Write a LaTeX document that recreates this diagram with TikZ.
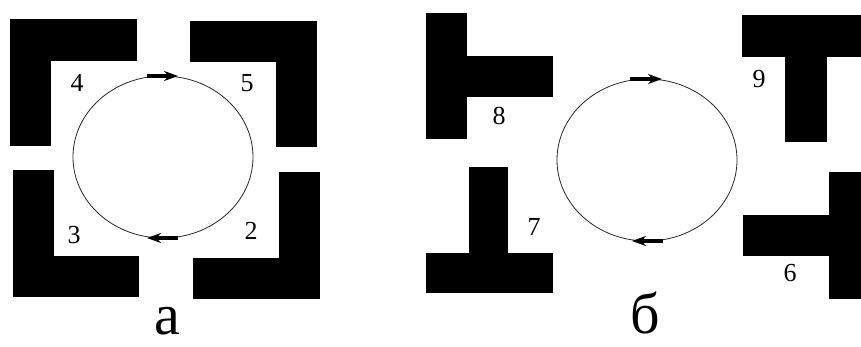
\documentclass[tikz,border=0pt]{standalone}
\usepackage{fontspec}
\setmainfont{Liberation Serif}
\newfontfamily\figfont{Liberation Serif}
\usetikzlibrary{arrows.meta}

\begin{document}
\begin{tikzpicture}[x=1pt, y=-1pt, >=Stealth,
    block/.style={fill=black},
    orbit/.style={draw=black!85, line width=0.8pt},
    flow/.style={line width=4pt, -{Stealth[length=14pt, width=10pt]}},
    num/.style={font=\figfont\fontsize{26}{28}\selectfont, inner sep=0pt},
    caption/.style={font=\figfont\fontsize{58}{62}\selectfont, inner sep=0pt}]
    \useasboundingbox (0,0) rectangle (861,347);
    % Panel a: corner pieces
    \fill[block] (10,19) rectangle (137,61);
    \fill[block] (10,19) rectangle (51,146);
    \fill[block] (190,21) rectangle (317,62);
    \fill[block] (276,21) rectangle (317,147);
    \fill[block] (13,170) rectangle (54,297);
    \fill[block] (13,256) rectangle (139,297);
    \fill[block] (279,172) rectangle (320,299);
    \fill[block] (193,258) rectangle (320,299);
    \draw[orbit] (163,157) ellipse [x radius=90pt, y radius=81pt];
    \draw[flow] (147,76) -- (178,76);
    \draw[flow] (178,238) -- (147,238);
    \node[num] (n4) at (77,83) {4};
    \node[num] (n5) at (247,83) {5};
    \node[num] (n3) at (74,235) {3};
    \node[num] (n2) at (251,231) {2};
    \node[caption] (capA) at (167,321) {а};
    % Panel b: T pieces
    \fill[block] (426,13) rectangle (467,139);
    \fill[block] (467,56) rectangle (553,97);
    \fill[block] (469,167) rectangle (508,253);
    \fill[block] (426,253) rectangle (553,293);
    \fill[block] (742,15) rectangle (861,57);
    \fill[block] (785,57) rectangle (827,142);
    \fill[block] (829,172) rectangle (861,299);
    \fill[block] (743,215) rectangle (829,256);
    \draw[orbit] (647,160) ellipse [x radius=90pt, y radius=81pt];
    \draw[flow] (630,79) -- (662,79);
    \draw[flow] (663,241) -- (632,241);
    \node[num] (n8) at (499,116) {8};
    \node[num] (n7) at (534,227) {7};
    \node[num] (n9) at (759,79) {9};
    \node[num] (n6) at (790,273) {6};
    \node[caption] (capB) at (645,313) {б};
\end{tikzpicture}
\end{document}
